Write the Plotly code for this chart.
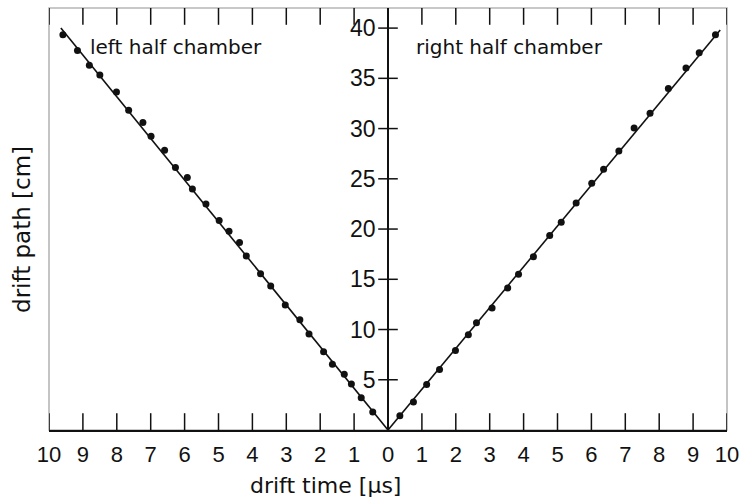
import plotly.graph_objects as go

# Measured drift time (µs, negative = left half) and drift path (cm)
left_time = [-9.59, -9.16, -8.81, -8.50, -8.01, -7.65, -7.23, -6.99, -6.59, -6.27,
             -5.92, -5.77, -5.37, -4.98, -4.69, -4.38, -4.18, -3.76, -3.46, -3.03,
             -2.60, -2.33, -1.90, -1.64, -1.29, -1.08, -0.79, -0.45]
left_path = [39.33, 37.77, 36.29, 35.33, 33.64, 31.83, 30.61, 29.23, 27.84, 26.12,
             25.13, 23.98, 22.50, 20.84, 19.78, 18.66, 17.31, 15.56, 14.34, 12.43,
             10.97, 9.55, 7.80, 6.55, 5.56, 4.57, 3.22, 1.80]

right_time = [0.35, 0.75, 1.14, 1.52, 1.99, 2.37, 2.61, 3.07, 3.53, 3.85, 4.29,
              4.77, 5.11, 5.55, 6.01, 6.36, 6.81, 7.26, 7.73, 8.27, 8.79, 9.18, 9.66]
right_path = [1.41, 2.79, 4.53, 6.02, 7.90, 9.49, 10.67, 12.15, 14.14, 15.50, 17.25,
              19.36, 20.67, 22.59, 24.57, 25.96, 27.77, 30.05, 31.53, 33.98, 36.02,
              37.54, 39.33]

# Straight-line fits through the origin
fit_left_time = [0.0, -9.65]
fit_left_path = [0.0, 40.0]
fit_right_time = [0.0, 9.80]
fit_right_path = [0.0, 39.8]

x_ticks = list(range(-10, 11))
x_tick_text = [str(abs(v)) for v in x_ticks]
y_ticks = [5, 10, 15, 20, 25, 30, 35, 40]
x_range = [-10, 10]
y_range = [0, 42]

NUM_FONT = "Liberation Sans Narrow, Arial Narrow, sans-serif"
TXT_FONT = "DejaVu Sans, sans-serif"
INK = "#111111"

fig = go.Figure()

for t, p in ((fit_left_time, fit_left_path), (fit_right_time, fit_right_path)):
    fig.add_trace(go.Scatter(x=t, y=p, mode="lines",
                             line=dict(color=INK, width=1.6), showlegend=False))

for t, p in ((left_time, left_path), (right_time, right_path)):
    fig.add_trace(go.Scatter(x=t, y=p, mode="markers",
                             marker=dict(color=INK, size=7), showlegend=False))

# tick marks along the bottom and top edges (half of each stroke is clipped away)
for edge in (y_range[0], y_range[1]):
    fig.add_trace(go.Scatter(
        x=x_ticks, y=[edge] * len(x_ticks), mode="markers", hoverinfo="skip",
        marker=dict(symbol="line-ns", size=24, color=INK,
                    line=dict(color=INK, width=1.5)),
        showlegend=False))

# cross ticks on the central t = 0 axis
fig.add_trace(go.Scatter(
    x=[0] * len(y_ticks), y=y_ticks, mode="markers", hoverinfo="skip",
    marker=dict(symbol="line-ew", size=14, color=INK, line=dict(color=INK, width=1.5)),
    showlegend=False))

# outer frame of the plotting area
shapes = [dict(type="rect", xref="paper", yref="paper", x0=0, x1=1, y0=0, y1=1,
               fillcolor="rgba(0,0,0,0)", line=dict(color=INK, width=1.6),
               layer="above")]

fig.update_layout(
    template="simple_white",
    width=747, height=502,
    margin=dict(l=49, r=10, t=8, b=72),
    paper_bgcolor="white", plot_bgcolor="white",
    font=dict(family=TXT_FONT, color=INK, size=22),
    showlegend=False,
    xaxis=dict(
        range=x_range, tickmode="array", tickvals=x_ticks, ticktext=x_tick_text,
        ticks="", showline=True, linecolor=INK, linewidth=2,
        showgrid=False, zeroline=False,
        ticklabeloverflow="allow", ticklabelstandoff=4,
        tickfont=dict(family=NUM_FONT, size=22),
    ),
    # central axis at t = 0 carrying the drift-path scale
    yaxis=dict(
        range=y_range, anchor="free", position=0.5, side="left",
        tickmode="array", tickvals=y_ticks, ticks="", ticklabelstandoff=7,
        showline=True, linecolor=INK, linewidth=1.6,
        showgrid=False, zeroline=False,
        tickfont=dict(family=NUM_FONT, size=23),
    ),
    shapes=shapes,
    annotations=[
        dict(x=-8.85, y=38.1, xref="x", yref="y", text="left half chamber",
             showarrow=False, xanchor="left", yanchor="middle",
             font=dict(family=TXT_FONT, size=20)),
        dict(x=0.78, y=38.1, xref="x", yref="y", text="right half chamber",
             showarrow=False, xanchor="left", yanchor="middle",
             font=dict(family=TXT_FONT, size=20)),
        dict(x=0.408, y=0, xref="paper", yref="paper", yshift=-55,
             text="drift time [µs]", showarrow=False, xanchor="center",
             yanchor="middle", font=dict(family=TXT_FONT, size=22)),
        dict(x=0, y=0.474, xref="paper", yref="paper", xshift=-27,
             text="drift path [cm]", textangle=-90, showarrow=False,
             xanchor="center", yanchor="middle", font=dict(family=TXT_FONT, size=23)),
    ],
)

fig.write_html("out.html")
